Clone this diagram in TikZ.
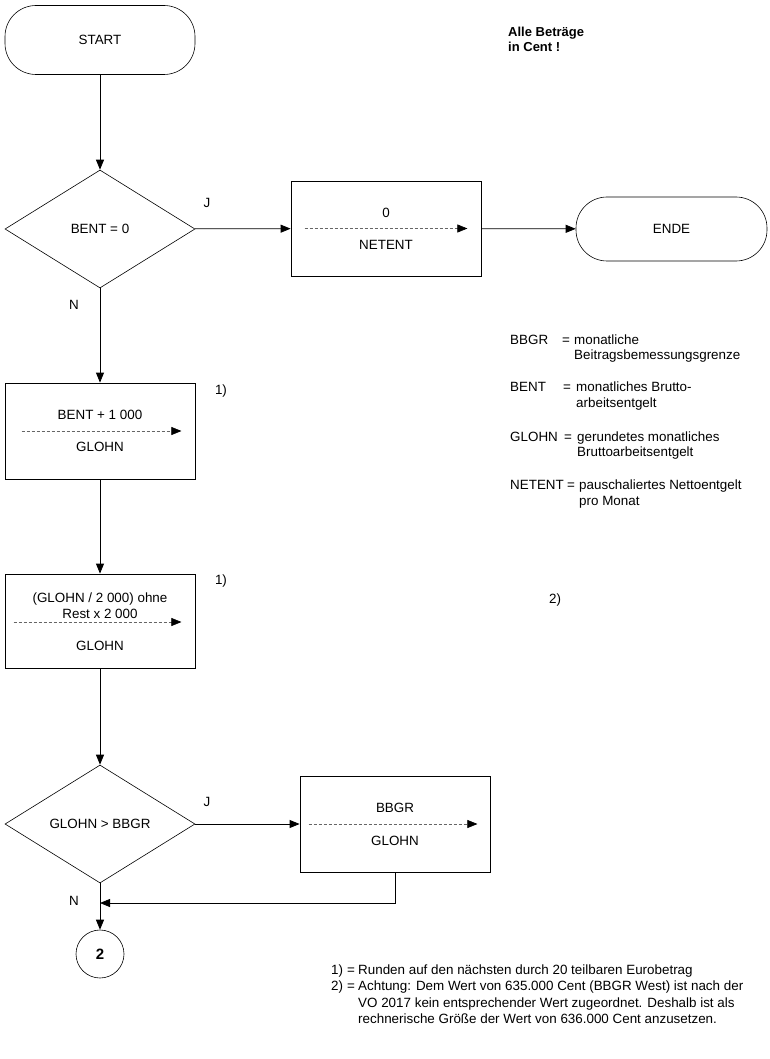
\documentclass[tikz,border=0pt]{standalone}
\usepackage{fontspec}
\setmainfont{Liberation Sans}
\usetikzlibrary{arrows.meta,shapes.geometric,calc}
\begin{document}
\begin{tikzpicture}[x=1pt,y=-1pt,
  font=\fontsize{13.4}{15.5}\selectfont,
  line/.style={line width=0.8pt},
  arr/.style={line, -{Triangle[length=10pt,width=8pt]}},
  dasharr/.style={line width=0.6pt, draw=black!60, dash pattern=on 3pt off 2pt, -{Triangle[length=10pt,width=8pt,color=black,fill=black]}},
  term/.style={draw, line width=0.6pt, rounded corners=31pt, minimum width=190pt, inner sep=0pt},
  proc/.style={draw, line width=0.8pt, minimum width=190pt, minimum height=95pt, inner sep=0pt},
  dec/.style={draw, diamond, line width=0.6pt, minimum width=190pt, minimum height=118pt, inner sep=0pt},
  conn/.style={draw, circle, line width=0.6pt, minimum size=48pt, inner sep=0pt, font=\fontsize{15}{17}\selectfont\bfseries},
  lbl/.style={anchor=base west, inner sep=0pt}
]
\useasboundingbox (0,0) rectangle (770,1059);

% terminals
\node[term, minimum height=69pt] (start) at (100,40) {START};
\node[term, minimum height=64pt, minimum width=191pt] (ende) at (671.5,229) {ENDE};

% decision 1
\node[dec] (d1) at (100,229) {BENT = 0};

% process NETENT
\node[proc] (p0) at (386,228.5) {};
\node (p0a) at ($(p0.center)+(0,-15.5)$) {0};
\node (p0b) at ($(p0.center)+(0,16.5)$) {NETENT};
\coordinate (p0s) at ($(p0.west)+(14,0)$);
\coordinate (p0e) at ($(p0.east)+(-14,0)$);
\draw[dasharr] (p0s) -- (p0e);

% process 2
\node[proc, minimum height=96pt] (p1) at (100,431) {};
\node (p1a) at ($(p1.center)+(0,-16)$) {BENT + 1 000};
\node (p1b) at ($(p1.center)+(0,16)$) {GLOHN};
\coordinate (p1s) at ($(p1.west)+(17,0)$);
\coordinate (p1e) at ($(p1.east)+(-14,0)$);
\draw[dasharr] (p1s) -- (p1e);

% process 3
\node[proc, minimum height=94pt] (p2) at (100,621) {};
\node[align=center] (p2a) at ($(p2.center)+(0,-15.5)$) {(GLOHN / 2 000) ohne\\Rest x 2 000};
\node (p2b) at ($(p2.center)+(0,25)$) {GLOHN};
\coordinate (p2s) at ($(p2.west)+(9,1)$);
\coordinate (p2e) at ($(p2.east)+(-14,1)$);
\draw[dasharr] (p2s) -- (p2e);

% decision 2
\node[dec] (d2) at (100,824) {GLOHN > BBGR};

% process 4
\node[proc, minimum height=96pt] (p3) at (395,824) {};
\node (p3a) at ($(p3.center)+(0,-16)$) {BBGR};
\node (p3b) at ($(p3.center)+(0,17)$) {GLOHN};
\coordinate (p3s) at ($(p3.west)+(9,0)$);
\coordinate (p3e) at ($(p3.east)+(-13,0)$);
\draw[dasharr] (p3s) -- (p3e);

% connector circle
\node[conn] (c2) at (100,954) {2};
\coordinate (m) at (100,903);

% connectors
\draw[arr] (start) -- (d1);
\draw[arr] (d1) -- (p0);
\draw[arr] (p0) -- (ende);
\draw[arr] (d1) -- (p1);
\draw[arr] (p1) -- (p2);
\draw[arr] (p2) -- (d2);
\draw[arr] (d2) -- (p3);
\draw[arr] (p3.south) |- (m);
\draw[line] (d2.south) -- (m);
\draw[arr] (m) -- (c2);

% branch labels
\node (j1) at (207,203) {J};
\node (n1) at (74,305) {N};
\node (j2) at (207,802) {J};
\node (n2) at (74,901) {N};
\node (f1) at (221,391) {1)};
\node (f2) at (221,581) {1)};
\node (f3) at (555,600) {2)};

% header
\node[lbl, font=\fontsize{13}{15}\selectfont\bfseries] (h1) at (508,36.5) {Alle Beträge};
\node[lbl, font=\fontsize{13}{15}\selectfont\bfseries] (h2) at (508,51.5) {in Cent !};

% legend
\node[lbl] (k1) at (510,344.5) {BBGR};
\node[lbl] (e1) at (562,344.5) {=};
\node[lbl] (t1) at (574,344.5) {monatliche};
\node[lbl] (t1b) at (574,359.5) {Beitragsbemessungsgrenze};
\node[lbl] (k2) at (510,391.5) {BENT};
\node[lbl] (e2) at (563,391.5) {=};
\node[lbl] (t2) at (576,391.5) {monatliches Brutto-};
\node[lbl] (t2b) at (576,407.5) {arbeitsentgelt};
\node[lbl] (k3) at (510,441.5) {GLOHN};
\node[lbl] (e3) at (564,441.5) {=};
\node[lbl] (t3) at (577,441.5) {gerundetes monatliches};
\node[lbl] (t3b) at (577,456.5) {Bruttoarbeitsentgelt};
\node[lbl] (k4) at (510,489.5) {NETENT};
\node[lbl] (e4) at (567,489.5) {=};
\node[lbl] (t4) at (579,489.5) {pauschaliertes Nettoentgelt};
\node[lbl] (t4b) at (579,505.5) {pro Monat};

% footnotes
\node[lbl] (fn1) at (331,974.5) {1)};
\node[lbl] (fn1e) at (347,974.5) {=};
\node[lbl] (fn1t) at (358,974.5) {Runden auf den nächsten durch 20 teilbaren Eurobetrag};
\node[lbl] (fn2) at (331,990.5) {2)};
\node[lbl] (fn2e) at (347,990.5) {=};
\node[lbl] (fn2t) at (358,990.5) {Achtung: Dem Wert von 635.000 Cent (BBGR West) ist nach der};
\node[lbl] (fn2b) at (358,1007.5) {VO 2017 kein entsprechender Wert zugeordnet. Deshalb ist als};
\node[lbl] (fn2c) at (358,1023.5) {rechnerische Größe der Wert von 636.000 Cent anzusetzen.};
\end{tikzpicture}
\end{document}
